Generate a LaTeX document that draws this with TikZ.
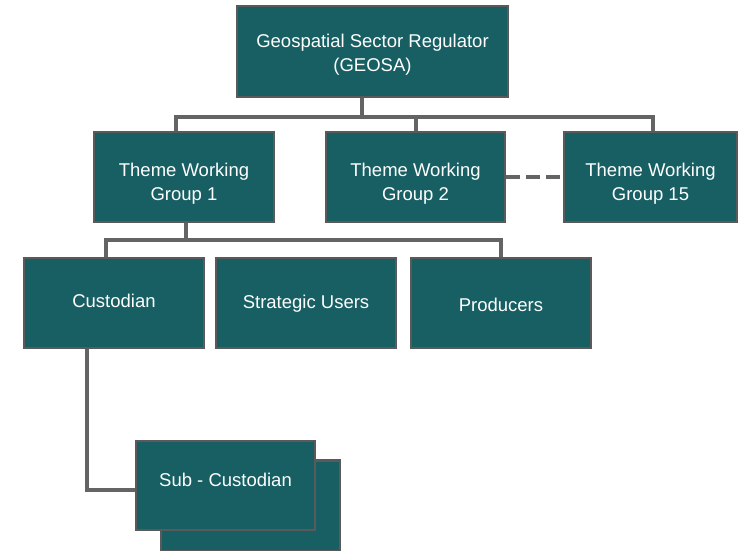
\documentclass[tikz,border=0pt]{standalone}
\usepackage{fontspec}
\setmainfont{Liberation Sans}
\definecolor{teal1}{HTML}{175F63}
\definecolor{edge}{HTML}{5A5A5A}
\definecolor{wire}{HTML}{646464}
\newcommand\tx[2]{\raisebox{#1}[\height][\depth]{\begin{tabular}{@{}c@{}}#2\end{tabular}}}
\begin{document}
\begin{tikzpicture}[x=1pt,y=-1pt,
  box/.style={draw=edge,line width=2.5pt,fill=teal1,text=white,
    inner sep=0pt,font=\fontsize{18.5}{24}\selectfont,minimum width=#1},
  box/.default=180pt,
  wire/.style={draw=wire,line width=4pt}]
\useasboundingbox (0,0) rectangle (738,550);
\node[box=271pt,minimum height=91pt] (top) at (372.5,51.5) {\tx{-3pt}{Geospatial Sector Regulator\\(GEOSA)}};
\node[box,minimum height=90pt] (g1) at (184,177) {\tx{-7pt}{Theme Working\\Group 1}};
\node[box=179pt,minimum height=90pt] (g2) at (415.5,177) {\tx{-7pt}{Theme Working\\Group 2}};
\node[box=173pt,minimum height=90pt] (g15) at (650.5,177) {\tx{-7pt}{Theme Working\\Group 15}};
\node[box,minimum height=90pt] (c) at (114,303) {\tx{0pt}{Custodian}};
\node[box,minimum height=90pt] (s) at (306,303) {\tx{-1pt}{Strategic Users}};
\node[box,minimum height=90pt] (p) at (501,303) {\tx{-4pt}{Producers}};
\node[box=179pt,minimum height=91pt] (subb) at (250.5,506) {};
\node[box=179pt,minimum height=89pt] (sub) at (225.5,485.5) {\tx{3.5pt}{Sub - Custodian}};
\coordinate (b1) at (362,117);
\coordinate (b2) at (186,240);
\draw[wire] ([xshift=-10.5pt]top.south) -- (b1);
\draw[wire] (g1.north -| 176,0) |- (b1) -| (g15.north -| 653,0);
\draw[wire] (g2.north) -- (g2.north |- b1);
\draw[wire] (g1.south -| b2) -- (b2);
\draw[wire] (c.north -| 106,0) |- (b2) -| (p.north);
\draw[wire] (s.north -| 308,0) -- (s.north -| 308,0 |- b2);
\draw[wire,dash pattern=on 14pt off 6pt] (g2.east) -- (g15.west);
\coordinate (k) at (87,490);
\draw[wire] (c.south -| k) -- (k) -- (sub.west |- k);
\end{tikzpicture}
\end{document}
